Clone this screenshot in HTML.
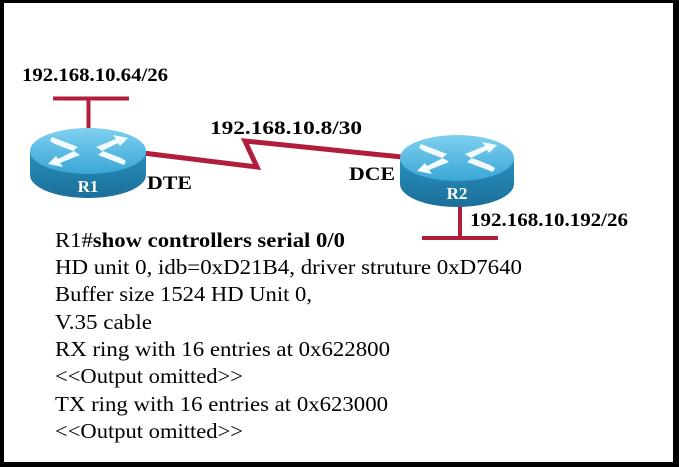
<!DOCTYPE html>
<html><head><meta charset="utf-8"><style>
html,body{margin:0;padding:0;background:#fff;}
svg{display:block;}
</style></head><body>
<svg width="679" height="467" viewBox="0 0 679 467" xmlns="http://www.w3.org/2000/svg">
<defs>
<linearGradient id="top" x1="0" y1="0" x2="0" y2="1">
<stop offset="0" stop-color="#7fd0f0"/><stop offset="1" stop-color="#3aa6d6"/></linearGradient>
<linearGradient id="side" x1="0" y1="0" x2="0" y2="1">
<stop offset="0" stop-color="#2a90bf"/><stop offset="1" stop-color="#1a6f98"/></linearGradient>
<g id="arrows" fill="#f4fbff">
<polygon points="-36,-14 -10,-4 -15,0 -33,-7 -38,-10"/>
<polygon points="36,14 10,4 15,0 33,7 38,10"/>
<polygon points="8,-4 28,-12 25,-16 40,-13 32,-5 30,-8 14,0"/>
<polygon points="-8,4 -28,12 -25,16 -40,13 -32,5 -30,8 -14,0"/>
</g>
</defs>
<rect x="0" y="0" width="679" height="467" fill="#000"/>
<rect x="4" y="3" width="669" height="459" fill="#fff"/>

<g stroke="#b01e3c" fill="none" stroke-width="4">
<line x1="53" y1="98.5" x2="129" y2="98.5"/>
<line x1="88.5" y1="98" x2="88.5" y2="130"/>
<polyline points="143,153 257,167 245,141 402,157" stroke-width="5"/>
<line x1="460" y1="205" x2="460" y2="238"/>
<line x1="422" y1="238" x2="498" y2="238"/>
</g>

<g>
<path d="M30,151 L30,175 A58,23 0 0 0 146,175 L146,151 Z" fill="url(#side)"/>
<ellipse cx="88" cy="151" rx="58" ry="23" fill="url(#top)"/>
<g transform="translate(88,151)"><use href="#arrows"/></g>
<text x="88" y="192" text-anchor="middle" font-family="Liberation Serif, serif" font-weight="bold" font-size="17" fill="#fff">R1</text>
</g>
<g>
<path d="M400,158 L400,184 A57,23 0 0 0 514,184 L514,158 Z" fill="url(#side)"/>
<ellipse cx="457" cy="158" rx="57" ry="23" fill="url(#top)"/>
<g transform="translate(457,158)"><use href="#arrows"/></g>
<text x="457" y="199" text-anchor="middle" font-family="Liberation Serif, serif" font-weight="bold" font-size="17" fill="#fff">R2</text>
</g>

<g font-family="Liberation Serif, serif" font-weight="bold" font-size="19" fill="#000">
<text x="22" y="81" textLength="146" lengthAdjust="spacingAndGlyphs">192.168.10.64/26</text>
<text x="210" y="134" textLength="152" lengthAdjust="spacingAndGlyphs">192.168.10.8/30</text>
<text x="147" y="189" textLength="45" lengthAdjust="spacingAndGlyphs">DTE</text>
<text x="349" y="180" textLength="46" lengthAdjust="spacingAndGlyphs">DCE</text>
<text x="470" y="226" textLength="158" lengthAdjust="spacingAndGlyphs">192.168.10.192/26</text>
</g>

<g font-family="Liberation Serif, serif" font-size="21" fill="#000">
<text x="55" y="247" textLength="290" lengthAdjust="spacingAndGlyphs">R1#<tspan font-weight="bold">show controllers serial 0/0</tspan></text>
<text x="55" y="274" textLength="467" lengthAdjust="spacingAndGlyphs">HD unit 0, idb=0xD21B4, driver struture 0xD7640</text>
<text x="55" y="301" textLength="257" lengthAdjust="spacingAndGlyphs">Buffer size 1524 HD Unit 0,</text>
<text x="55" y="329" textLength="97" lengthAdjust="spacingAndGlyphs">V.35 cable</text>
<text x="55" y="356" textLength="335" lengthAdjust="spacingAndGlyphs">RX ring with 16 entries at 0x622800</text>
<text x="55" y="383" textLength="188" lengthAdjust="spacingAndGlyphs">&lt;&lt;Output omitted&gt;&gt;</text>
<text x="55" y="411" textLength="333" lengthAdjust="spacingAndGlyphs">TX ring with 16 entries at 0x623000</text>
<text x="55" y="438" textLength="188" lengthAdjust="spacingAndGlyphs">&lt;&lt;Output omitted&gt;&gt;</text>
</g>
</svg>
</body></html>
